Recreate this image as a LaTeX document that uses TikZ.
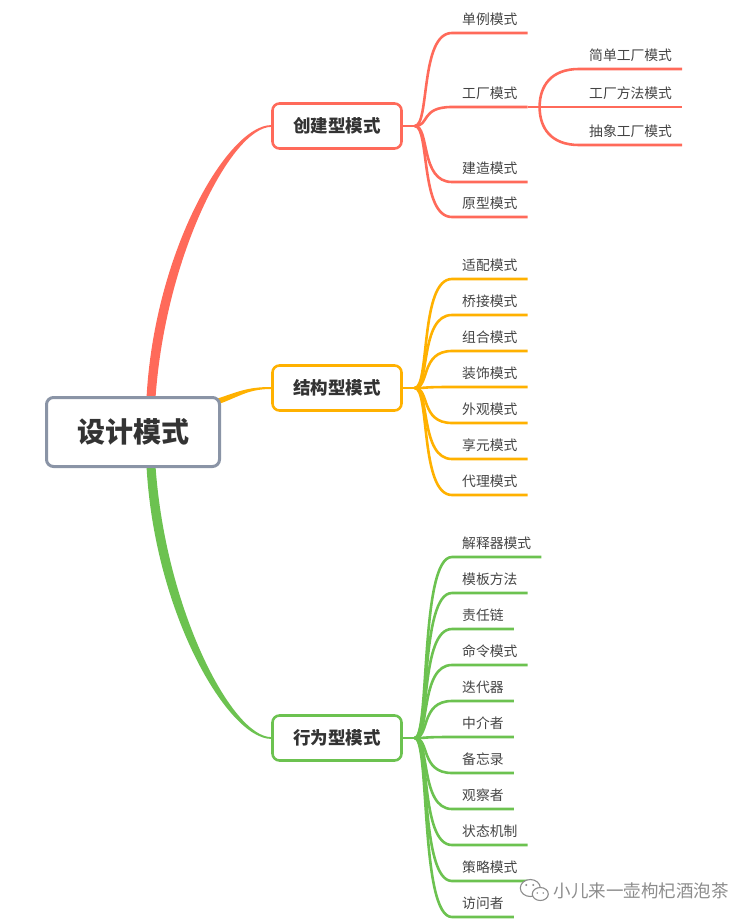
\documentclass[tikz,border=0pt]{standalone}
\usepackage{fontspec}
\setmainfont{Noto Sans CJK SC}
\usepackage{xcolor}
\usepackage{tikz}
\usetikzlibrary{calc}
\definecolor{crRed}{HTML}{FF6A5A}
\definecolor{stOrange}{HTML}{FFB100}
\definecolor{bhGreen}{HTML}{6CC250}
\definecolor{rootGray}{HTML}{8A94A6}
\definecolor{txtDark}{HTML}{333333}
\definecolor{txtLeaf}{HTML}{444444}
\definecolor{wmGray}{HTML}{8C8C8C}
\pgfdeclarelayer{bg}
\pgfsetlayers{bg,main}

\begin{document}
\begin{tikzpicture}[x=1pt, y=-1pt,
  root/.style={draw=rootGray, line width=3pt, rounded corners=7pt, fill=white, minimum width=173pt, minimum height=69pt, font=\fontsize{28}{32}\selectfont\bfseries, text=txtDark},
  topic/.style={draw=#1, line width=2.6pt, rounded corners=7pt, fill=white, minimum width=129pt, minimum height=45pt, font=\fontsize{17.5}{21}\selectfont\bfseries, text=txtDark},
  leaf/.style={anchor=south west, inner xsep=10pt, inner ysep=8.5pt, text depth=0pt, font=\fontsize{13.8}{16}\selectfont, text=txtLeaf},
  branch/.style={draw=#1, line width=2.6pt}
]
\useasboundingbox (0,0) rectangle (755,923);
% main nodes
\node[root] (root) at (133,432) {设计模式};
\node[topic=crRed] (create) at (337,126) {创建型模式};
\node[topic=stOrange] (struct) at (337,388) {结构型模式};
\node[topic=bhGreen] (behave) at (337,738) {行为型模式};
% leaves
\foreach \y/\n/\t in {33/sing/单例模式, 107/fact/工厂模式, 182/build/建造模式, 217/proto/原型模式}
  \node[leaf] (\n) at (452,\y) {\t};
\foreach \y/\n/\t in {69/simp/简单工厂模式, 107/fmeth/工厂方法模式, 145/abst/抽象工厂模式}
  \node[leaf] (\n) at (579,\y) {\t};
\foreach \y/\n/\t in {279/adap/适配模式, 315/bridge/桥接模式, 351/comp/组合模式, 387/deco/装饰模式, 423/facade/外观模式, 459/flyw/享元模式, 495/proxy/代理模式}
  \node[leaf] (\n) at (452,\y) {\t};
\foreach \y/\n/\t in {557/interp/解释器模式, 593/templ/模板方法, 629/chain/责任链, 665/cmd/命令模式, 701/iter/迭代器, 737/medi/中介者, 773/memo/备忘录, 809/obs/观察者, 845/state/状态机制, 881/strat/策略模式, 917/visit/访问者}
  \node[leaf] (\n) at (452,\y) {\t};
% watermark
\node[font=\fontsize{17.5}{20}\selectfont, text=wmGray, inner sep=0pt] (wm) at (641,891) {小儿来一壶枸杞酒泡茶};

\begin{pgfonlayer}{bg}
% tapered main branches
\coordinate (rs) at ($(root.north)+(18,2)$);
\coordinate (gs) at ($(root.south)+(18,-2)$);
\fill[crRed] ($(rs)+(-4.5,0)$) .. controls +(8,-148) and +(-43,0) .. ($(create.west)+(0,-0.9)$)
  -- ($(create.west)+(0,0.9)$) .. controls +(-39,0) and +(10,-144) .. ($(rs)+(4.5,0)$) -- cycle;
\fill[stOrange] ($(root.north east)+(-8,4)$) .. controls +(25,-8) and +(-25,0) .. ($(struct.west)+(0,-1)$)
  -- ($(struct.west)+(0,1)$) .. controls +(-25,0) and +(25,-8) .. ($(root.north east)+(-8,10)$) -- cycle;
\fill[bhGreen] ($(gs)+(-4.5,0)$) .. controls +(8,148) and +(-43,0) .. ($(behave.west)+(0,0.9)$)
  -- ($(behave.west)+(0,-0.9)$) .. controls +(-39,0) and +(10,144) .. ($(gs)+(4.5,0)$) -- cycle;
% sub branches
\coordinate (cj) at ($(create.east)+(12,0)$);
\coordinate (sj) at ($(struct.east)+(12,0)$);
\coordinate (bj) at ($(behave.east)+(12,0)$);
\draw[branch=crRed] (create.east) -- (cj);
\draw[branch=stOrange] (struct.east) -- (sj);
\draw[branch=bhGreen] (behave.east) -- (bj);
\foreach \n in {sing,fact,build,proto}
  \draw[branch=crRed] (cj) .. controls +(15,0) and +(-32,0) .. (\n.south west) -- (\n.south east);
\foreach \n in {adap,bridge,comp,deco,facade,flyw,proxy}
  \draw[branch=stOrange] (sj) .. controls +(15,0) and +(-32,0) .. (\n.south west) -- (\n.south east);
\foreach \n in {interp,templ,chain,cmd,iter,medi,memo,obs,state,strat,visit}
  \draw[branch=bhGreen] (bj) .. controls +(15,0) and +(-32,0) .. (\n.south west) -- (\n.south east);
% factory sub-branch
\coordinate (fj) at ($(fact.south east)+(12,0)$);
\draw[branch=crRed] (fact.south east) -- (fj);
\foreach \n/\d in {simp/-21, fmeth/0, abst/21}
  \draw[branch=crRed] (fj) .. controls +(0,\d) and +(-28,0) .. (\n.south west) -- (\n.south east);
\end{pgfonlayer}

% wechat icon
\draw[wmGray, line width=1.1pt, fill=white] ($(wm.west)+(-23,-3)$) ellipse [x radius=10, y radius=8.5];
\draw[wmGray, line width=1.1pt, fill=white] ($(wm.west)+(-13,3)$) ellipse [x radius=8, y radius=6.5];
\fill[wmGray] ($(wm.west)+(-27,-6)$) circle (1.1) ($(wm.west)+(-20,-6)$) circle (1.1)
  ($(wm.west)+(-16,2)$) circle (0.9) ($(wm.west)+(-10,2)$) circle (0.9);
\end{tikzpicture}
\end{document}
